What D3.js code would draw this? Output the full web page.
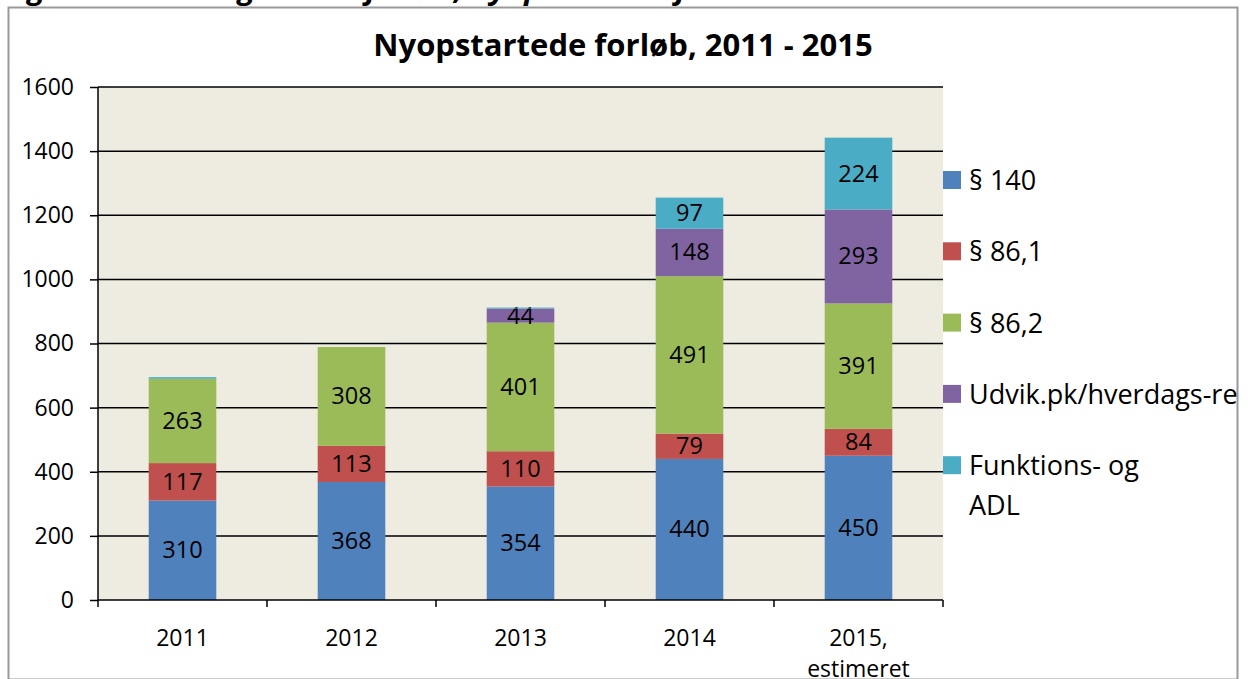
<!DOCTYPE html>
<html lang="da">
<head>
<meta charset="utf-8">
<title>Nyopstartede forløb</title>
<script src="https://cdn.jsdelivr.net/npm/d3@7"></script>
<style>
  html, body { margin: 0; padding: 0; background: #fff; }
  svg { display: block; font-family: "Open Sans", "Noto Sans", sans-serif; }
</style>
</head>
<body>
<script>
const years = ["2011", "2012", "2013", "2014", "2015,|estimeret"];
const seriesNames = ["§ 140", "§ 86,1", "§ 86,2", "Udvik.pk/hverdags-rehabilitering", "Funktions- og|ADL"];
const colors = ["#4F81BD", "#C0504D", "#9BBB59", "#8064A2", "#4BACC6"];
// values per series, one per year
const s140 = [310, 368, 354, 440, 450];
const s861 = [117, 113, 110, 79, 84];
const s862 = [263, 308, 401, 491, 391];
const udvik = [0, 0, 44, 148, 293];
const funk = [5, 0, 3, 97, 224];
const yTicks = [0, 200, 400, 600, 800, 1000, 1200, 1400, 1600];

const W = 1252, H = 679;
const svg = d3.select("body").append("svg").attr("width", W).attr("height", H);

// caption above the chart box, only its lower part shows
svg.append("text")
  .attr("x", 2).attr("y", -1)
  .attr("font-size", 29).attr("font-weight", "bold").attr("font-style", "italic")
  .attr("textLength", 762).attr("lengthAdjust", "spacingAndGlyphs")
  .text("Figur 2: Udvikling i antal forløb, nyopstartede forløb");

// chart box
svg.append("rect")
  .attr("x", 8.5).attr("y", 7.5).attr("width", 1229).attr("height", 672)
  .attr("fill", "#fff").attr("stroke", "#999").attr("stroke-width", 2);

const clip = svg.append("clipPath").attr("id", "box");
clip.append("rect").attr("x", 9).attr("y", 8).attr("width", 1228).attr("height", 671);
const g = svg.append("g").attr("clip-path", "url(#box)");

const x = d3.scaleBand().domain(years).range([98, 943]).paddingInner(0.6).paddingOuter(0.3);
const y = d3.scaleLinear().domain([0, 1600]).range([600, 87]);

g.append("rect")
  .attr("x", 98).attr("y", y(1600)).attr("width", 943 - 98).attr("height", y(0) - y(1600))
  .attr("fill", "#EEECE1");

// gridlines
g.append("g").selectAll("line")
  .data(yTicks.filter(d => d > 0))
  .join("line")
  .attr("x1", 98).attr("x2", 943)
  .attr("y1", d => y(d)).attr("y2", d => y(d))
  .attr("stroke", "#000").attr("stroke-width", 1.5);

// stacked bars
const rows = years.map((yr, i) => ({ year: yr, s0: s140[i], s1: s861[i], s2: s862[i], s3: udvik[i], s4: funk[i] }));
const stack = d3.stack().keys(["s0", "s1", "s2", "s3", "s4"])(rows);

const layers = g.append("g").selectAll("g")
  .data(stack)
  .join("g")
  .attr("fill", (d, i) => colors[i]);

layers.selectAll("rect")
  .data(d => d)
  .join("rect")
  .attr("x", d => x(d.data.year))
  .attr("width", x.bandwidth())
  .attr("y", d => y(d[1]))
  .attr("height", d => y(d[0]) - y(d[1]));

layers.selectAll("text")
  .data(d => d.filter(v => v[1] - v[0] >= 20))
  .join("text")
  .attr("x", d => x(d.data.year) + x.bandwidth() / 2)
  .attr("y", d => (y(d[0]) + y(d[1])) / 2 + 8)
  .attr("text-anchor", "middle")
  .attr("font-size", 23.5)
  .attr("fill", "#000")
  .text(d => d[1] - d[0]);

// y axis
const yAxis = g.append("g").attr("transform", "translate(98,0)")
  .call(d3.axisLeft(y).tickValues(yTicks).tickSize(8).tickPadding(16).tickFormat(d3.format("d")));
yAxis.select(".domain").attr("stroke", "#000").attr("stroke-width", 1.5).attr("d", `M-0,${y(1600)}V${y(0)}`);
yAxis.selectAll(".tick line").attr("stroke", "#000").attr("stroke-width", 1.5);
yAxis.selectAll(".tick text").attr("font-size", 23).attr("fill", "#000").attr("font-family", "Open Sans, sans-serif");

// x axis with ticks on category boundaries
g.append("line").attr("x1", 98).attr("x2", 943).attr("y1", y(0)).attr("y2", y(0))
  .attr("stroke", "#000").attr("stroke-width", 1.5);
const step = x.step();
const bounds = d3.range(years.length + 1).map(i => x.range()[0] + i * step);
g.append("g").selectAll("line")
  .data(bounds)
  .join("line")
  .attr("x1", d => d).attr("x2", d => d)
  .attr("y1", y(0)).attr("y2", y(0) + 7)
  .attr("stroke", "#000").attr("stroke-width", 1.5);

const xl = g.append("g").selectAll("text")
  .data(years)
  .join("text")
  .attr("x", d => x(d) + x.bandwidth() / 2)
  .attr("y", 646)
  .attr("text-anchor", "middle")
  .attr("font-size", 23)
  .attr("fill", "#000");
xl.selectAll("tspan")
  .data(d => d.split("|").map(t => ({ t, x: x(d) + x.bandwidth() / 2 })))
  .join("tspan")
  .attr("x", d => d.x)
  .attr("dy", (d, i) => i === 0 ? 0 : 31)
  .text(d => d.t);

// title
g.append("text")
  .attr("x", 623).attr("y", 56)
  .attr("text-anchor", "middle")
  .attr("font-size", 31).attr("font-weight", "bold")
  .text("Nyopstartede forløb, 2011 - 2015");

// legend
const leg = g.append("g").selectAll("g")
  .data(seriesNames)
  .join("g")
  .attr("transform", (d, i) => `translate(943,${180 + i * 71.3})`);
leg.append("rect")
  .attr("x", 0).attr("y", -9).attr("width", 18).attr("height", 18)
  .attr("fill", (d, i) => colors[i]);
const lt = leg.append("text")
  .attr("x", 26).attr("y", 10)
  .attr("font-size", 27).attr("fill", "#000");
lt.selectAll("tspan")
  .data(d => d.split("|"))
  .join("tspan")
  .attr("x", 26)
  .attr("dy", (d, i) => i === 0 ? 0 : 40)
  .text(d => d);
</script>
</body>
</html>
